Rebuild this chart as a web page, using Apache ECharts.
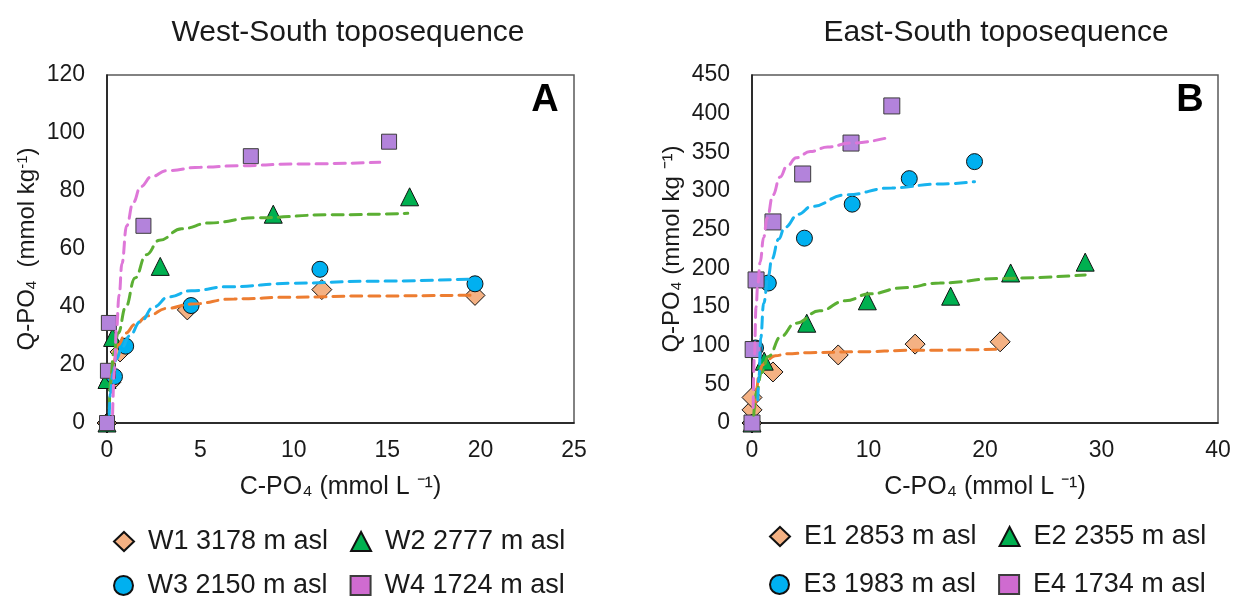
<!DOCTYPE html>
<html>
<head>
<meta charset="utf-8">
<script src="https://cdn.jsdelivr.net/npm/echarts@6/dist/echarts.min.js"></script>
<style>
  html, body { margin: 0; padding: 0; background: #ffffff; }
  #chart { width: 1234px; height: 597px; }
</style>
</head>
<body>
<div id="chart"></div>
<script>
// ---------- Panel A: West-South toposequence ----------
const w1Label = 'W1 3178 m asl';
const w2Label = 'W2 2777 m asl';
const w3Label = 'W3 2150 m asl';
const w4Label = 'W4 1724 m asl';

// measured sorption points (C-PO4 mmol/L, Q-PO4 mmol/kg)
const w1C = [0, 0.2, 0.7, 4.3, 11.5, 19.7];
const w1Q = [0, 14, 24.5, 39, 46, 44];
const w2C = [0, 0, 0.3, 2.85, 8.9, 16.2];
const w2Q = [0, 15, 29.5, 54, 72, 78];
const w3C = [0, 0.4, 1.0, 4.5, 11.4, 19.7];
const w3Q = [0, 16, 26.5, 40.5, 53, 48];
const w4C = [0, 0.05, 0.1, 1.95, 7.7, 15.1];
const w4Q = [0, 18, 34.5, 68, 92, 97];

// fitted isotherms (dashed)
const w1FitC = [0.2, 0.35, 0.6, 1.0, 1.5, 2.2, 3.2, 4.5, 6.8, 10, 14, 19.6];
const w1FitQ = [14, 21, 27, 31, 34, 37, 39.5, 41, 42.8, 43.4, 43.8, 44.1];
const w2FitC = [0.12, 0.2, 0.35, 0.6, 1.0, 1.5, 2.1, 2.8, 4, 5.5, 8, 12, 16.1];
const w2FitQ = [5, 15, 24, 31, 40, 50, 58, 63, 67, 69, 70.8, 71.8, 72.3];
const w3FitC = [0.12, 0.18, 0.3, 0.5, 0.8, 1.2, 1.8, 2.5, 3.3, 4.5, 6.5, 10, 14, 19.4];
const w3FitQ = [3, 10, 17, 22, 26, 30, 35, 40, 43.5, 45.6, 47, 48.2, 48.9, 49.6];
const w4FitC = [0.3, 0.4, 0.5, 0.65, 0.8, 1.05, 1.4, 1.8, 2.4, 3.2, 5, 7, 10, 14.6];
const w4FitQ = [3, 18, 32, 44, 55, 68, 76, 81.5, 85, 87, 88.2, 88.7, 89.3, 89.9];

// ---------- Panel B: East-South toposequence ----------
const e1Label = 'E1 2853 m asl';
const e2Label = 'E2 2355 m asl';
const e3Label = 'E3 1983 m asl';
const e4Label = 'E4 1734 m asl';

const e1C = [0, 0, 0, 1.8, 7.4, 14, 21.3];
const e1Q = [0, 17, 33, 66, 88, 102, 105];
const e2C = [0, 1.05, 4.7, 9.9, 17.05, 22.2, 28.6];
const e2Q = [0, 80, 129, 158, 164, 194, 208];
const e3C = [0, 0.3, 1.4, 4.5, 8.6, 13.5, 19.1];
const e3Q = [0, 97, 181, 239, 283, 316, 338];
const e4C = [0, 0.1, 0.35, 1.8, 4.35, 8.5, 12.0];
const e4Q = [0, 95, 185, 260, 322, 362, 410];

const e1FitC = [0.25, 0.4, 0.6, 0.9, 1.3, 2, 3, 5, 8.7, 14, 21.2];
const e1FitQ = [20, 45, 63, 75, 82, 87, 89.5, 91, 92, 94, 95.3];
const e2FitC = [0.15, 0.4, 0.8, 1.4, 2.5, 3.7, 5.8, 8, 10.1, 13, 16.1, 21.3, 28.6];
const e2FitQ = [10, 40, 65, 86, 112, 129, 145, 158, 167, 175, 181, 187, 191.5];
const e3FitC = [0.5, 0.6, 0.75, 1.0, 1.4, 1.7, 2.3, 2.8, 4, 5.1, 8, 12, 16, 19.1];
const e3FitQ = [30, 60, 110, 155, 190, 212, 238, 253, 270, 280, 295, 304, 309, 312];
const e4FitC = [0.1, 0.2, 0.35, 0.5, 0.7, 1.0, 1.3, 1.8, 2.4, 3, 3.8, 5, 6.5, 8.5, 11.4];
const e4FitQ = [20, 85, 150, 180, 208, 240, 265, 295, 318, 332, 343, 351, 357, 362, 368];

// axis ticks
const aXTicks = { min: 0, max: 25, interval: 5 };
const aYTicks = { min: 0, max: 120, interval: 20 };
const bXTicks = { min: 0, max: 40, interval: 10 };
const bYTicks = { min: 0, max: 450, interval: 50 };

// ---------- styling ----------
const FONT = "'Liberation Sans', Arial, sans-serif";
const TXT = '#1a1a1a';
const peach = '#F4B183', green = '#00B050', cyan = '#00B0F0', lavender = '#B383DB';
const fitOrange = '#ED7D31', fitGreen = '#5BAF33', fitBlue = '#17B3EE', fitPink = '#DE77D8';
const legendSquare = '#CF6BD0';

const zip = (xs, ys) => xs.map((x, i) => [x, ys[i]]);

function pointSeries(name, idx, xs, ys, symbol, size, color, border) {
  return {
    name, type: 'scatter', xAxisIndex: idx, yAxisIndex: idx,
    data: zip(xs, ys), symbol, symbolSize: size,
    itemStyle: { color, borderColor: border || '#111', borderWidth: 1, opacity: 1 },
    emphasis: { disabled: true }, clip: false, z: 3
  };
}
function fitSeries(name, idx, xs, ys, color) {
  return {
    name, type: 'line', xAxisIndex: idx, yAxisIndex: idx,
    data: zip(xs, ys), showSymbol: false, symbol: 'none',
    smooth: 0.45, smoothMonotone: 'x',
    lineStyle: { color, width: 3, type: [11, 7], cap: 'round' },
    emphasis: { disabled: true }, clip: false, z: 4
  };
}

function xAxisOf(idx, t, name) {
  return {
    type: 'value', gridIndex: idx, min: t.min, max: t.max, interval: t.interval,
    name, nameLocation: 'middle', nameGap: 52,
    nameTextStyle: { fontFamily: FONT, fontSize: 25, color: TXT },
    axisLine: { show: true, lineStyle: { color: '#111', width: 1.5 } },
    axisTick: { show: false }, splitLine: { show: false },
    axisLabel: { fontFamily: FONT, fontSize: 23, color: TXT, margin: 16 }
  };
}
function yAxisOf(idx, t, name, gap, rich) {
  return {
    type: 'value', gridIndex: idx, min: t.min, max: t.max, interval: t.interval,
    name, nameLocation: 'middle', nameGap: gap,
    nameTextStyle: { fontFamily: FONT, fontSize: 24, color: TXT, rich },
    axisLine: { show: true, lineStyle: { color: '#111', width: 1.5 } },
    axisTick: { show: false }, splitLine: { show: false },
    axisLabel: { fontFamily: FONT, fontSize: 23, color: TXT, margin: 22 }
  };
}

const legendBase = {
  orient: 'horizontal', itemWidth: 20, itemHeight: 19, itemGap: 22,
  textStyle: { fontFamily: FONT, fontSize: 27, color: TXT, padding: [0, 0, 0, 9] },
  selectedMode: false
};

const chart = echarts.init(document.getElementById('chart'), null, { renderer: 'canvas' });

chart.setOption({
  backgroundColor: '#ffffff',
  animation: false,
  grid: [
    { left: 107, top: 75, width: 467, height: 348, show: true, borderColor: '#5a5a5a', borderWidth: 1.5, backgroundColor: 'transparent' },
    { left: 752, top: 75, width: 466, height: 348, show: true, borderColor: '#5a5a5a', borderWidth: 1.5, backgroundColor: 'transparent' }
  ],
  xAxis: [
    xAxisOf(0, aXTicks, 'C-PO₄ (mmol L ⁻¹)'),
    xAxisOf(1, bXTicks, 'C-PO₄ (mmol L ⁻¹)')
  ],
  yAxis: [
    yAxisOf(0, aYTicks, '{n|Q-PO}{sb|4}{n|  (mmol kg}{sp|-1}{n|)}', 68, {
      n: { fontFamily: FONT, fontSize: 24, color: TXT },
      sb: { fontFamily: FONT, fontSize: 15, color: TXT, verticalAlign: 'bottom' },
      sp: { fontFamily: FONT, fontSize: 15, color: TXT, verticalAlign: 'top' }
    }),
    yAxisOf(1, bYTicks, 'Q-PO₄ (mmol kg ⁻¹)', 68)
  ],
  legend: [
    Object.assign({}, legendBase, { left: 108, top: 523, data: [w1Label, w2Label] }),
    Object.assign({}, legendBase, { left: 108, top: 567, data: [w3Label, { name: w4Label, itemStyle: { color: legendSquare } }] }),
    Object.assign({}, legendBase, { left: 764, top: 518, data: [e1Label, e2Label] }),
    Object.assign({}, legendBase, { left: 764, top: 566, data: [e3Label, { name: e4Label, itemStyle: { color: legendSquare } }] })
  ],
  graphic: [
    { type: 'text', x: 348, y: 33, style: { text: 'West-South toposequence', font: "30px 'Liberation Sans', Arial, sans-serif", fill: TXT, align: 'center', verticalAlign: 'middle' } },
    { type: 'text', x: 996, y: 33, style: { text: 'East-South toposequence', font: "30px 'Liberation Sans', Arial, sans-serif", fill: TXT, align: 'center', verticalAlign: 'middle' } },
    { type: 'text', x: 545, y: 101, style: { text: 'A', font: "bold 38px 'Liberation Sans', Arial, sans-serif", fill: '#000', align: 'center', verticalAlign: 'middle' } },
    { type: 'text', x: 1190, y: 101, style: { text: 'B', font: "bold 38px 'Liberation Sans', Arial, sans-serif", fill: '#000', align: 'center', verticalAlign: 'middle' } }
  ],
  series: [
    pointSeries(w1Label, 0, w1C, w1Q, 'diamond', 20, peach),
    pointSeries(w2Label, 0, w2C, w2Q, 'triangle', 18, green),
    pointSeries(w3Label, 0, w3C, w3Q, 'circle', 16, cyan),
    pointSeries(w4Label, 0, w4C, w4Q, 'rect', 15, lavender, '#3c3c3c'),
    fitSeries('W1 fit', 0, w1FitC, w1FitQ, fitOrange),
    fitSeries('W2 fit', 0, w2FitC, w2FitQ, fitGreen),
    fitSeries('W3 fit', 0, w3FitC, w3FitQ, fitBlue),
    fitSeries('W4 fit', 0, w4FitC, w4FitQ, fitPink),

    pointSeries(e1Label, 1, e1C, e1Q, 'diamond', 20, peach),
    pointSeries(e2Label, 1, e2C, e2Q, 'triangle', 18, green),
    pointSeries(e3Label, 1, e3C, e3Q, 'circle', 16, cyan),
    pointSeries(e4Label, 1, e4C, e4Q, 'rect', 16, lavender, '#3c3c3c'),
    fitSeries('E1 fit', 1, e1FitC, e1FitQ, fitOrange),
    fitSeries('E2 fit', 1, e2FitC, e2FitQ, fitGreen),
    fitSeries('E3 fit', 1, e3FitC, e3FitQ, fitBlue),
    fitSeries('E4 fit', 1, e4FitC, e4FitQ, fitPink)
  ]
});
</script>
</body>
</html>
